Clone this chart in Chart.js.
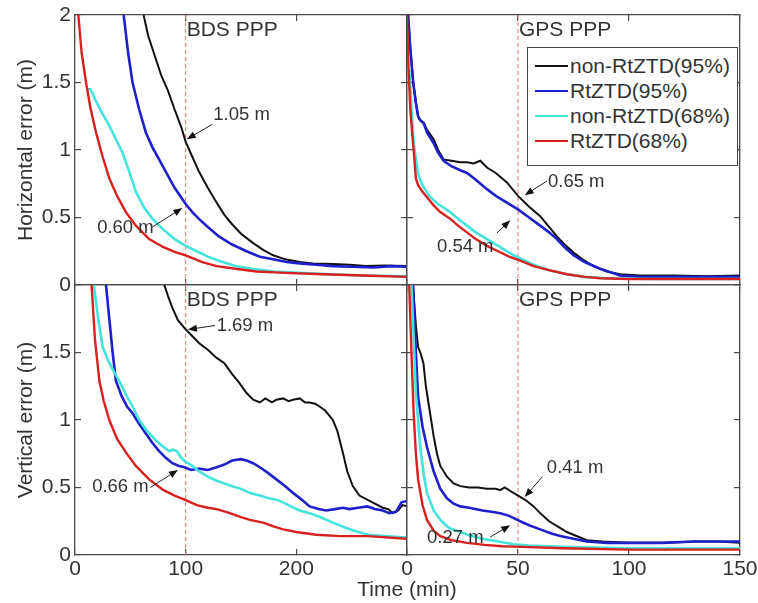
<!DOCTYPE html>
<html>
<head>
<meta charset="utf-8">
<script src="https://cdn.jsdelivr.net/npm/chart.js@4.4.1/dist/chart.umd.min.js"></script>
<style>
  body { margin: 0; background: #fff; }
  #wrap { position: relative; width: 758px; height: 603px; overflow: hidden; }
  #wrap canvas { position: absolute; left: 0; top: 0; }
  .txt { position: absolute; font-family: "Liberation Sans", Arial, sans-serif; color: #333; font-size: 21px; white-space: nowrap; }
  .ytitle { transform: translate(-50%, -50%) rotate(-90deg); }
  #legend { position: absolute; left: 527px; top: 47px; width: 211px; height: 119px; border: 1px solid #444; background: #fff; box-sizing: border-box; padding-top: 5px; }
  #legend div { position: relative; height: 25px; line-height: 25px; font-family: "Liberation Sans", Arial, sans-serif; font-size: 21px; color: #333; padding-left: 42px; }
  #legend span { position: absolute; left: 7px; top: 12px; width: 33px; }
</style>
</head>
<body>
<div id="wrap">
  <canvas id="c1" width="758" height="603"></canvas>
  <canvas id="c2" width="758" height="603"></canvas>
  <canvas id="c3" width="758" height="603"></canvas>
  <canvas id="c4" width="758" height="603"></canvas>
  <div class="txt ytitle" style="left:25px; top:150px;">Horizontal error (m)</div>
  <div class="txt ytitle" style="left:25px; top:420px;">Vertical error (m)</div>
  <div class="txt" style="left:407px; top:589px; transform: translate(-50%, -50%);">Time (min)</div>
  <div id="legend"></div>
</div>
<script>
const seriesNames = ['non-RtZTD(95%)', 'RtZTD(95%)', 'non-RtZTD(68%)', 'RtZTD(68%)'];
const seriesColors = ['#111111', '#1f1fcc', '#44e4dc', '#d8201f'];
const seriesWidths = [2, 2.6, 2.6, 2.4];

// horizontal error, BDS PPP
const hBdsT1 = [62, 66, 72, 78, 84, 90, 96, 100, 106, 112, 120, 128, 135, 142, 150, 161, 170, 179, 190, 203, 215, 233, 248, 263, 280, 300];
const hBdsV1 = [2.0, 1.85, 1.70, 1.55, 1.44, 1.30, 1.17, 1.06, 0.95, 0.84, 0.72, 0.61, 0.52, 0.45, 0.38, 0.31, 0.26, 0.22, 0.19, 0.17, 0.16, 0.155, 0.15, 0.14, 0.145, 0.14];
const hBdsT2 = [44, 48, 52, 58, 64, 70, 76, 82, 90, 100, 106, 112, 120, 130, 142, 155, 167, 179, 191, 203, 218, 233, 250, 270, 285, 300];
const hBdsV2 = [2.0, 1.72, 1.50, 1.30, 1.13, 1.02, 0.93, 0.84, 0.72, 0.60, 0.54, 0.49, 0.43, 0.36, 0.30, 0.25, 0.21, 0.19, 0.17, 0.16, 0.15, 0.14, 0.135, 0.13, 0.14, 0.135];
const hBdsT3 = [11, 14, 18, 24, 31, 37, 43, 49, 55, 62, 70, 80, 90, 100, 110, 120, 130, 145, 160, 180, 203, 230, 260, 300];
const hBdsV3 = [1.45, 1.45, 1.38, 1.28, 1.18, 1.08, 0.98, 0.84, 0.69, 0.58, 0.49, 0.41, 0.34, 0.29, 0.25, 0.21, 0.18, 0.14, 0.12, 0.10, 0.09, 0.08, 0.07, 0.065];
const hBdsT4 = [3, 6, 10, 14, 19, 25, 31, 38, 46, 55, 67, 80, 90, 100, 115, 128, 145, 164, 190, 224, 260, 300];
const hBdsV4 = [2.0, 1.72, 1.50, 1.31, 1.13, 0.95, 0.79, 0.66, 0.54, 0.44, 0.34, 0.28, 0.245, 0.22, 0.17, 0.14, 0.12, 0.10, 0.09, 0.08, 0.07, 0.06];

// horizontal error, GPS PPP
const hGpsT1 = [0.5, 1.5, 2.8, 4, 5, 6, 7.5, 9, 12, 14, 16.5, 20, 24, 27, 30, 33, 36, 40, 45, 50, 55, 60, 64, 67.5, 71, 75, 80, 84, 90, 96, 105, 120, 135, 150];
const hGpsV1 = [2.0, 1.75, 1.5, 1.35, 1.25, 1.22, 1.2, 1.15, 1.08, 1.0, 0.93, 0.92, 0.91, 0.91, 0.90, 0.92, 0.87, 0.83, 0.76, 0.66, 0.58, 0.51, 0.43, 0.36, 0.30, 0.24, 0.18, 0.14, 0.10, 0.08, 0.07, 0.07, 0.065, 0.07];
const hGpsT2 = [0.5, 1.5, 2.8, 4, 5, 6, 7.5, 9, 12, 14, 16.5, 20, 24, 27, 31, 36, 40, 45, 50, 55, 60, 64, 67.5, 71, 75, 80, 87, 96, 105, 120, 135, 150];
const hGpsV2 = [2.0, 1.75, 1.5, 1.35, 1.25, 1.22, 1.2, 1.13, 1.05, 0.98, 0.92, 0.88, 0.85, 0.83, 0.78, 0.71, 0.66, 0.61, 0.56, 0.50, 0.44, 0.39, 0.34, 0.28, 0.22, 0.17, 0.12, 0.07, 0.06, 0.06, 0.06, 0.06];
const hGpsT3 = [1, 3, 5, 7, 10, 14, 19.5, 23, 27, 31, 36, 42, 48, 52, 57, 64, 72, 80, 90, 110, 150];
const hGpsV3 = [1.6, 1.05, 0.82, 0.74, 0.66, 0.60, 0.54, 0.49, 0.44, 0.39, 0.34, 0.28, 0.22, 0.19, 0.15, 0.11, 0.08, 0.06, 0.05, 0.045, 0.045];
const hGpsT4 = [0, 0.7, 1.5, 2.2, 3, 4, 5, 7, 9, 12, 15, 19.5, 23, 27, 31, 36, 41, 46, 51, 57, 64, 72, 80, 87, 100, 120, 150];
const hGpsV4 = [2.0, 1.6, 1.3, 1.15, 1.0, 0.79, 0.74, 0.69, 0.65, 0.59, 0.54, 0.49, 0.44, 0.39, 0.34, 0.29, 0.25, 0.21, 0.18, 0.14, 0.11, 0.08, 0.06, 0.05, 0.045, 0.045, 0.045];

// vertical error, BDS PPP
const vBdsT1 = [80.7, 84, 88, 93, 99, 105, 112, 120, 128, 135, 142, 148, 155, 161, 167, 172, 178, 182, 188, 193, 197, 203, 208, 212, 217, 221, 226, 230, 233, 237, 242, 246, 251, 257, 264, 271, 278, 283, 287, 292, 296, 300];
const vBdsV1 = [2.0, 1.92, 1.83, 1.74, 1.68, 1.63, 1.57, 1.52, 1.46, 1.42, 1.34, 1.28, 1.20, 1.15, 1.13, 1.16, 1.13, 1.15, 1.16, 1.14, 1.15, 1.16, 1.13, 1.13, 1.12, 1.10, 1.07, 1.03, 1.0, 0.92, 0.76, 0.62, 0.51, 0.44, 0.41, 0.38, 0.35, 0.34, 0.31, 0.33, 0.37, 0.36];
const vBdsT2 = [28, 31, 34, 37, 42, 47, 52, 58, 64, 70, 76, 82, 88, 94, 99, 105, 112, 120, 128, 135, 142, 150, 155, 161, 167, 174, 182, 190, 197, 205, 212, 220, 227, 235, 242, 248, 256, 264, 271, 278, 284, 290, 295, 300];
const vBdsV2 = [2.0, 1.75, 1.5, 1.29, 1.18, 1.10, 1.05, 0.97, 0.90, 0.83, 0.77, 0.72, 0.68, 0.66, 0.65, 0.63, 0.64, 0.63, 0.65, 0.67, 0.70, 0.71, 0.70, 0.68, 0.65, 0.61, 0.56, 0.51, 0.46, 0.41, 0.36, 0.34, 0.33, 0.34, 0.35, 0.34, 0.35, 0.36, 0.34, 0.33, 0.31, 0.32, 0.39, 0.40];
const vBdsT3 = [17, 21, 25, 30, 35, 40, 46, 52, 58, 65, 73, 80, 85, 88, 92, 96, 100, 106, 112, 120, 128, 135, 142, 150, 158, 167, 175, 182, 188, 195, 203, 212, 222, 233, 245, 256, 265, 280, 300];
const vBdsV3 = [2.0, 1.75, 1.54, 1.44, 1.36, 1.29, 1.19, 1.10, 1.0, 0.92, 0.85, 0.80, 0.77, 0.78, 0.77, 0.72, 0.69, 0.66, 0.62, 0.58, 0.55, 0.53, 0.51, 0.49, 0.46, 0.44, 0.42, 0.41, 0.39, 0.36, 0.33, 0.31, 0.28, 0.24, 0.20, 0.17, 0.15, 0.14, 0.13];
const vBdsT4 = [15, 18, 22, 26, 31, 38, 46, 55, 67, 80, 90, 99, 110, 120, 128, 140, 150, 158, 170, 180, 188, 200, 218, 240, 264, 300];
const vBdsV4 = [2.0, 1.6, 1.29, 1.14, 1.0, 0.86, 0.76, 0.66, 0.56, 0.48, 0.44, 0.41, 0.37, 0.35, 0.34, 0.31, 0.28, 0.26, 0.24, 0.21, 0.19, 0.17, 0.15, 0.14, 0.14, 0.12];

// vertical error, GPS PPP
const vGpsT1 = [2.7, 4, 5, 6, 7.4, 8.5, 10.4, 12, 13.5, 15, 18, 21, 24, 28, 32, 36, 40, 42, 44, 47, 51, 54, 57, 60, 64, 68, 72, 75, 78, 81, 88, 100, 115, 130, 140, 150];
const vGpsV1 = [2.0, 1.7, 1.54, 1.5, 1.42, 1.25, 1.05, 0.88, 0.75, 0.66, 0.58, 0.53, 0.51, 0.50, 0.50, 0.49, 0.49, 0.48, 0.50, 0.47, 0.43, 0.40, 0.36, 0.31, 0.25, 0.21, 0.17, 0.15, 0.13, 0.11, 0.10, 0.09, 0.09, 0.10, 0.10, 0.09];
const vGpsT2 = [2.7, 4, 5, 7, 9, 12, 15, 18, 21, 24, 28, 34, 38, 42, 46, 51, 55, 60, 65, 69, 75, 81, 90, 100, 115, 130, 150];
const vGpsV2 = [2.0, 1.5, 1.17, 0.95, 0.80, 0.62, 0.49, 0.42, 0.38, 0.36, 0.35, 0.33, 0.32, 0.31, 0.29, 0.25, 0.22, 0.19, 0.16, 0.14, 0.12, 0.10, 0.09, 0.09, 0.09, 0.10, 0.10];
const vGpsT3 = [2, 4, 6, 7.5, 9, 12, 15, 19, 24, 29, 34, 41, 48, 55, 70, 100, 150];
const vGpsV3 = [2.0, 1.2, 0.8, 0.6, 0.46, 0.33, 0.26, 0.20, 0.17, 0.14, 0.12, 0.10, 0.08, 0.07, 0.06, 0.05, 0.05];
const vGpsT4 = [1, 2, 3, 4, 5, 7, 9, 12, 15, 20, 27, 35, 43, 52, 70, 100, 150];
const vGpsV4 = [2.0, 1.5, 1.05, 0.75, 0.56, 0.37, 0.26, 0.18, 0.14, 0.11, 0.09, 0.075, 0.065, 0.06, 0.05, 0.04, 0.04];

// arrow notes: label, label position, arrow tail, arrow head (data units)
const hBdsNotes = [
  { text: '1.05 m', at: [125, 1.26], from: [124, 1.19], to: [101, 1.08] },
  { text: '0.60 m', at: [20, 0.42], from: [70, 0.43], to: [97, 0.57] }
];
const hGpsNotes = [
  { text: '0.65 m', at: [63.5, 0.76], from: [63, 0.77], to: [53, 0.665] },
  { text: '0.54 m', at: [13.5, 0.28], from: [40.5, 0.385], to: [46.5, 0.48] }
];
const vBdsNotes = [
  { text: '1.69 m', at: [128, 1.70], from: [126.5, 1.70], to: [102, 1.67] },
  { text: '0.66 m', at: [15.5, 0.505], from: [68, 0.5], to: [93, 0.63] }
];
const vGpsNotes = [
  { text: '0.41 m', at: [63, 0.645], from: [61, 0.58], to: [53, 0.43] },
  { text: '0.27 m', at: [9, 0.126], from: [37.5, 0.133], to: [46.5, 0.22] }
];

const FONT = '"Liberation Sans", Arial, sans-serif';

function pts(t, v) {
  return t.map((x, i) => ({ x: x, y: v[i] }));
}

const notesPlugin = {
  id: 'notes',
  afterDatasetsDraw(chart, args, opts) {
    const ctx = chart.ctx;
    const xs = chart.scales.x, ys = chart.scales.y;
    ctx.save();
    ctx.fillStyle = '#333';
    ctx.font = '21px ' + FONT;
    ctx.textBaseline = 'middle';
    ctx.fillText(opts.tag, xs.getPixelForValue(opts.mark) + 1, chart.chartArea.top + 15);
    ctx.font = '18.5px ' + FONT;
    opts.items.forEach(n => {
      ctx.fillStyle = '#333';
      ctx.fillText(n.text, xs.getPixelForValue(n.at[0]), ys.getPixelForValue(n.at[1]));
      const x1 = xs.getPixelForValue(n.from[0]), y1 = ys.getPixelForValue(n.from[1]);
      const x2 = xs.getPixelForValue(n.to[0]), y2 = ys.getPixelForValue(n.to[1]);
      const a = Math.atan2(y2 - y1, x2 - x1);
      ctx.strokeStyle = '#222';
      ctx.lineWidth = 1;
      ctx.beginPath();
      ctx.moveTo(x1, y1);
      ctx.lineTo(x2 - 6 * Math.cos(a), y2 - 6 * Math.sin(a));
      ctx.stroke();
      ctx.fillStyle = '#111';
      ctx.beginPath();
      ctx.moveTo(x2, y2);
      ctx.lineTo(x2 - 9 * Math.cos(a) + 3.5 * Math.sin(a), y2 - 9 * Math.sin(a) - 3.5 * Math.cos(a));
      ctx.lineTo(x2 - 9 * Math.cos(a) - 3.5 * Math.sin(a), y2 - 9 * Math.sin(a) + 3.5 * Math.cos(a));
      ctx.closePath();
      ctx.fill();
    });
    ctx.restore();
  }
};

// size = room the scale takes outside the plot (labels are clipped to it)
function axis(pos, min, max, step, size, showLabels, hide) {
  const horiz = pos === 'top' || pos === 'bottom';
  return {
    type: 'linear',
    position: pos,
    min: min,
    max: max,
    afterFit: s => {
      if (horiz) s.height = size; else s.width = size;
      s.paddingLeft = s.paddingRight = s.paddingTop = s.paddingBottom = 0;
    },
    border: { display: true, color: '#4a4a4a', width: 1.3 },
    grid: { drawOnChartArea: false, drawTicks: true, tickLength: -6, color: '#4a4a4a', lineWidth: 1.2 },
    ticks: {
      display: showLabels,
      stepSize: step,
      autoSkip: false,
      maxRotation: 0,
      padding: horiz ? 8 : 10,
      color: '#333',
      font: { family: FONT, size: 21 },
      callback: v => (hide.includes(v) ? '' : String(v))
    }
  };
}

function makePanel(id, box, xMax, xStep, mark, tag, series, xLabels, xHide, yLabels, yHide, notes) {
  const datasets = series.map((s, i) => ({
    label: seriesNames[i],
    data: pts(s[0], s[1]),
    borderColor: seriesColors[i],
    borderWidth: seriesWidths[i],
    pointRadius: 0,
    tension: 0,
    order: 4 - i
  }));
  datasets.push({
    label: 'mark',
    data: pts([mark, mark], [0, 2]),
    borderColor: '#e87474',
    borderWidth: 1,
    borderDash: [4, 3],
    pointRadius: 0,
    order: 9
  });
  const ySize = yLabels ? 60 : 0;
  const xSize = xLabels ? 40 : 0;
  return new Chart(document.getElementById(id), {
    type: 'line',
    data: { datasets: datasets },
    options: {
      animation: false,
      responsive: false,
      devicePixelRatio: 1,
      layout: { padding: { left: box[0] - ySize, top: box[1], right: 758 - box[2], bottom: 603 - box[3] - xSize } },
      plugins: {
        legend: { display: false },
        tooltip: { enabled: false },
        notes: { tag: tag, mark: mark, items: notes }
      },
      scales: {
        x: axis('bottom', 0, xMax, xStep, xSize, xLabels, xHide),
        x2: axis('top', 0, xMax, xStep, 0, false, []),
        y: axis('left', 0, 2, 0.5, ySize, yLabels, yHide),
        y2: axis('right', 0, 2, 0.5, 0, false, [])
      }
    },
    plugins: [notesPlugin]
  });
}

makePanel('c1', [75, 15, 407, 285], 300, 100, 100, 'BDS PPP',
  [[hBdsT1, hBdsV1], [hBdsT2, hBdsV2], [hBdsT3, hBdsV3], [hBdsT4, hBdsV4]],
  false, [], true, [], hBdsNotes);
makePanel('c2', [407, 15, 740, 285], 150, 50, 50, 'GPS PPP',
  [[hGpsT1, hGpsV1], [hGpsT2, hGpsV2], [hGpsT3, hGpsV3], [hGpsT4, hGpsV4]],
  false, [], false, [], hGpsNotes);
makePanel('c3', [75, 285, 407, 555], 300, 100, 100, 'BDS PPP',
  [[vBdsT1, vBdsV1], [vBdsT2, vBdsV2], [vBdsT3, vBdsV3], [vBdsT4, vBdsV4]],
  true, [300], true, [2], vBdsNotes);
makePanel('c4', [407, 285, 740, 555], 150, 50, 50, 'GPS PPP',
  [[vGpsT1, vGpsV1], [vGpsT2, vGpsV2], [vGpsT3, vGpsV3], [vGpsT4, vGpsV4]],
  true, [], false, [], vGpsNotes);

// legend box in the GPS horizontal panel
const legend = document.getElementById('legend');
seriesNames.forEach((name, i) => {
  const row = document.createElement('div');
  const line = document.createElement('span');
  line.style.borderTop = seriesWidths[i] + 'px solid ' + seriesColors[i];
  row.appendChild(line);
  row.appendChild(document.createTextNode(name));
  legend.appendChild(row);
});
</script>
</body>
</html>
